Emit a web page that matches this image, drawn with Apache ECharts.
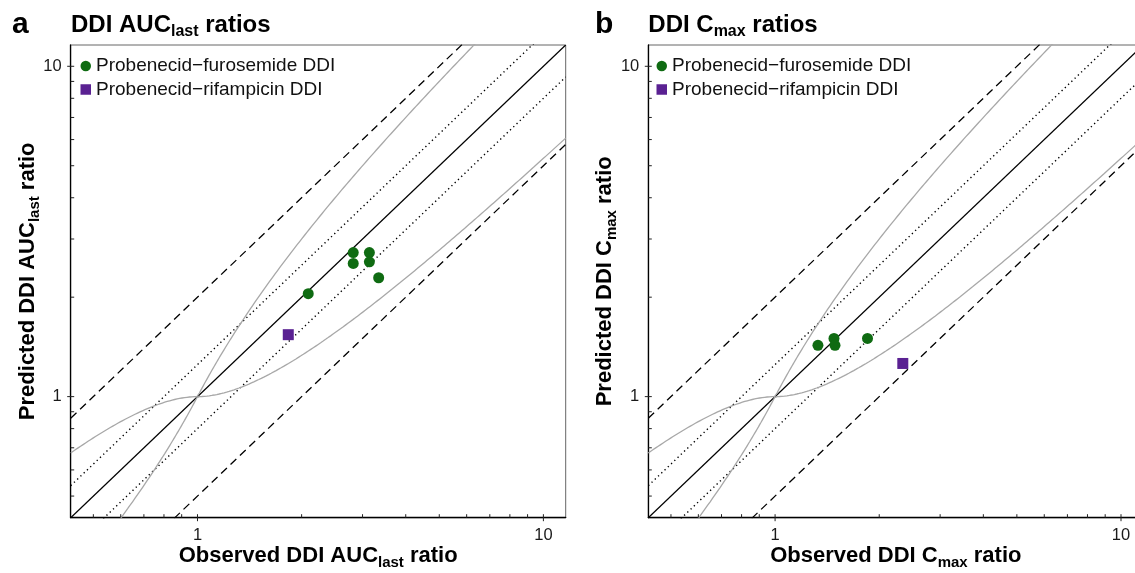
<!DOCTYPE html>
<html><head><meta charset="utf-8">
<script src="https://cdn.jsdelivr.net/npm/echarts@6/dist/echarts.min.js"></script>
<style>html,body{margin:0;padding:0;background:#fff}#c{width:1135px;height:573px}</style>
</head><body><div id="c"></div>
<script>
// ---- data ----
const AX_MIN = 0.43, AX_MAX = 11.6;
const majorTicks = [1, 10];
const minorTicks = [0.5, 0.6, 0.7, 0.8, 0.9, 2, 3, 4, 5, 6, 7, 8, 9];
const seriesNames = ['Probenecid\u2212furosemide DDI', 'Probenecid\u2212rifampicin DDI'];

const aucFuroObs  = [2.82, 3.14, 2.82, 3.14, 3.34, 2.09];
const aucFuroPred = [2.73, 2.73, 2.53, 2.56, 2.29, 2.05];
const aucRifObs   = [1.83];
const aucRifPred  = [1.54];

const cmaxFuroObs  = [1.33, 1.48, 1.49, 1.85];
const cmaxFuroPred = [1.43, 1.50, 1.43, 1.50];
const cmaxRifObs   = [2.34];
const cmaxRifPred  = [1.26];

const solidFactors = [1];
const dottedFactors = [1.25, 0.8];
const dashedFactors = [2, 0.5];
const guestDelta = 1;

// ---- helpers ----
const FONT = '"Liberation Sans", Arial, Helvetica, sans-serif';
const GRIDS = [
  {left: 70.7, top: 45, width: 495, height: 472.7},
  {left: 648.3, top: 45, width: 495, height: 472.7}
];

function zip(a, b) { return a.map((v, i) => [v, b[i]]); }

function refLine(gi, k, type) {
  const style = {color: '#000', width: 1.2, type: 'solid'};
  if (type === 'dotted') { style.type = [1.3, 3.2]; style.width = 1.4; }
  if (type === 'dashed') { style.type = [8, 5]; style.width = 1.3; }
  return {type: 'line', xAxisIndex: gi, yAxisIndex: gi, silent: true, symbol: 'none',
    lineStyle: style, data: [[AX_MIN, AX_MIN * k], [AX_MAX, AX_MAX * k]], z: 2};
}

function guestLine(gi, upper) {
  const pts = [];
  const n = 400;
  const l0 = Math.log10(AX_MIN), l1 = Math.log10(AX_MAX);
  for (let i = 0; i <= n; i++) {
    const x = Math.pow(10, l0 + (l1 - l0) * i / n);
    const R = x >= 1 ? x : 1 / x;
    const lim = (guestDelta + 2 * (R - 1)) / R;
    pts.push([x, upper ? x * lim : x / lim]);
  }
  return {type: 'line', xAxisIndex: gi, yAxisIndex: gi, silent: true, symbol: 'none',
    lineStyle: {color: '#a8a8a8', width: 1.3}, data: pts, z: 2};
}

function tickSeries(gi) {
  const data = [];
  majorTicks.forEach(v => { data.push([v, AX_MIN, 0]); data.push([AX_MIN, v, 2]); });
  minorTicks.forEach(v => { data.push([v, AX_MIN, 1]); data.push([AX_MIN, v, 3]); });
  return {type: 'custom', xAxisIndex: gi, yAxisIndex: gi, clip: false, silent: true, z: 10,
    encode: {x: 0, y: 1}, data: data,
    renderItem: function (params, api) {
      const k = api.value(2);
      const p = api.coord([api.value(0), api.value(1)]);
      let s;
      if (k === 0) s = {x1: p[0], y1: p[1] - 3.5, x2: p[0], y2: p[1] + 3.5};
      else if (k === 1) s = {x1: p[0], y1: p[1] - 3.5, x2: p[0], y2: p[1]};
      else if (k === 2) s = {x1: p[0] - 3.5, y1: p[1], x2: p[0] + 3.5, y2: p[1]};
      else s = {x1: p[0], y1: p[1], x2: p[0] + 3.5, y2: p[1]};
      return {type: 'line', shape: s, style: {stroke: '#222', lineWidth: 1}};
    }};
}

function panelSeries(gi, fo, fp, ro, rp) {
  const out = [];
  dashedFactors.forEach(k => out.push(refLine(gi, k, 'dashed')));
  dottedFactors.forEach(k => out.push(refLine(gi, k, 'dotted')));
  solidFactors.forEach(k => out.push(refLine(gi, k, 'solid')));
  out.push(guestLine(gi, true));
  out.push(guestLine(gi, false));
  out.push({type: 'scatter', name: seriesNames[0], xAxisIndex: gi, yAxisIndex: gi,
    symbol: 'circle', symbolSize: 11, itemStyle: {color: '#0f6b12', opacity: 1}, data: zip(fo, fp), z: 5});
  out.push({type: 'scatter', name: seriesNames[1], xAxisIndex: gi, yAxisIndex: gi,
    symbol: 'rect', symbolSize: 11, itemStyle: {color: '#5a2192', opacity: 1}, data: zip(ro, rp), z: 5});
  out.push(tickSeries(gi));
  return out;
}

function labelFmt(v) {
  const r = Math.round(v * 1000) / 1000;
  return (r === 1 || r === 10) ? String(r) : '';
}

function makeAxis(gi) {
  return {type: 'log', logBase: 10, gridIndex: gi, min: AX_MIN, max: AX_MAX,
    axisLine: {show: true, onZero: false, lineStyle: {color: '#000', width: 1.3}},
    axisTick: {show: false}, minorTick: {show: false},
    splitLine: {show: false}, minorSplitLine: {show: false},
    axisLabel: {formatter: labelFmt, fontSize: 16.5, color: '#1a1a1a', margin: 9, fontFamily: FONT}};
}

function richTitle(pre, sub, post, size, subSize) {
  return {
    text: '{m|' + pre + '}{s|' + sub + '}{m|' + post + '}',
    rich: {
      m: {fontSize: size, fontWeight: 'bold', fontFamily: FONT, lineHeight: size + 6, fill: '#000', color: '#000'},
      s: {fontSize: subSize, fontWeight: 'bold', fontFamily: FONT, lineHeight: subSize - 2, verticalAlign: 'bottom', fill: '#000', color: '#000'}
    },
    fill: '#000', align: 'left', verticalAlign: 'middle'
  };
}

function textEl(x, y, st, rot, align) {
  st.align = align || st.align || 'left';
  st.verticalAlign = 'middle';
  return {type: 'text', x: x, y: y, rotation: rot || 0, silent: true, style: st};
}

const legendBase = {orient: 'vertical', padding: 0, itemGap: 3.5, itemWidth: 10.5, itemHeight: 10.5,
  textStyle: {fontSize: 19, fontFamily: FONT, color: '#111', lineHeight: 20},
  data: [{name: seriesNames[0], icon: 'circle'}, {name: seriesNames[1], icon: 'rect'}],
  selectedMode: false};

const chart = echarts.init(document.getElementById('c'), null, {renderer: 'canvas'});
chart.setOption({
  animation: false,
  backgroundColor: '#fff',
  grid: GRIDS.map(g => Object.assign({show: true, borderColor: '#666', borderWidth: 1,
    backgroundColor: 'transparent', containLabel: false, outerBoundsMode: 'none'}, g)),
  xAxis: [makeAxis(0), makeAxis(1)],
  yAxis: [makeAxis(0), makeAxis(1)],
  legend: [
    Object.assign({}, legendBase, {left: 80.5, top: 56}),
    Object.assign({}, legendBase, {left: 656.5, top: 56})
  ],
  graphic: [
    textEl(12, 25, {text: 'a', font: 'bold 30px ' + FONT, fill: '#000'}),
    textEl(71, 25, richTitle('DDI AUC', 'last', ' ratios', 24, 16)),
    textEl(318.2, 556, richTitle('Observed DDI AUC', 'last', ' ratio', 22, 15), 0, 'center'),
    textEl(28, 281.3, richTitle('Predicted DDI AUC', 'last', ' ratio', 22, 15), Math.PI / 2, 'center'),
    textEl(595, 25, {text: 'b', font: 'bold 30px ' + FONT, fill: '#000'}),
    textEl(648.3, 25, richTitle('DDI C', 'max', ' ratios', 24, 16)),
    textEl(895.8, 556, richTitle('Observed DDI C', 'max', ' ratio', 22, 15), 0, 'center'),
    textEl(605, 281.3, richTitle('Predicted DDI C', 'max', ' ratio', 22, 15), Math.PI / 2, 'center')
  ],
  series: [].concat(
    panelSeries(0, aucFuroObs, aucFuroPred, aucRifObs, aucRifPred),
    panelSeries(1, cmaxFuroObs, cmaxFuroPred, cmaxRifObs, cmaxRifPred)
  )
});
</script>
</body></html>
